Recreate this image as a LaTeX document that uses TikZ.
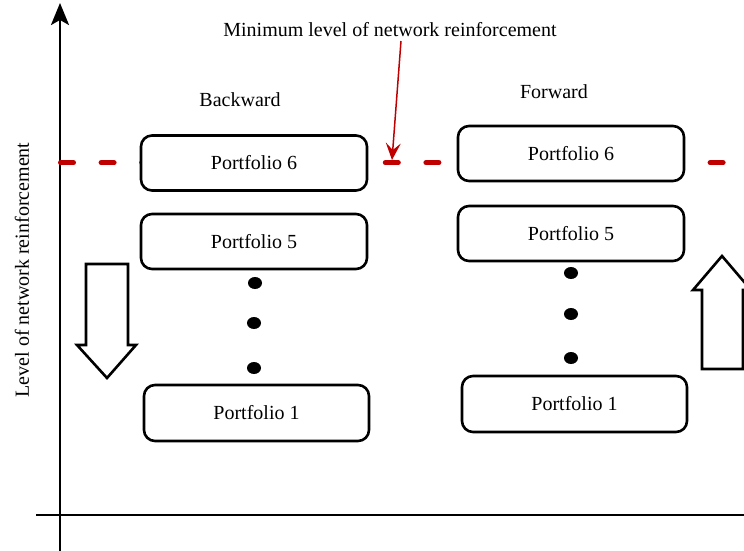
\documentclass[tikz,border=0pt]{standalone}
\usepackage{fontspec}
\setmainfont{Liberation Serif}
\usetikzlibrary{arrows.meta,shapes.geometric}
\definecolor{minred}{RGB}{192,0,0}
\begin{document}
\begin{tikzpicture}[x=1pt,y=-1pt,
                    font=\fontsize{20}{24}\selectfont,
                    portfolio/.style={draw,line width=2.6pt,rounded corners=11pt,fill=white,
                                      minimum width=226pt,minimum height=55pt,inner sep=0pt},
                    axis/.style={line width=2.6pt},
                    minlevel/.style={minred,line width=5pt,line cap=round,dash pattern=on 13pt off 27.6pt},
                    dot/.style={ellipse,fill=black,minimum width=14pt,minimum height=12pt,inner sep=0pt},
                    blockarrow/.style={draw,line width=2.6pt,fill=white,line join=miter}
                   ]
      \useasboundingbox (0,0) rectangle (744,551);
      \clip (0,0) rectangle (744,551);
      % axes
      \coordinate (ytop) at (60,3);
      \coordinate (ybot) at (60,551);
      \coordinate (xleft) at (36,515);
      \coordinate (xright) at (744,515);
      \draw[axis,-{Stealth[length=22pt,width=18pt,inset=5pt]}] (ybot) -- (ytop);
      \draw[axis] (xleft) -- (xright);
      \node[rotate=90] (ylabel) at (22,270) {Level of network reinforcement};
      % minimum level
      \coordinate (lvlstart) at (60.5,162.7);
      \coordinate (lvlend) at (744,162.7);
      \draw[minlevel] (lvlstart) -- (lvlend);
      \node (title) at (390,30) {Minimum level of network reinforcement};
      \coordinate (hit) at (392,160);
      \draw[minred,line width=1.5pt,-{Stealth[length=17pt,width=15pt,inset=7pt]}] (401,41) -- (hit);
      % backward
      \node (bw) at (240,100) {Backward};
      \node[portfolio] (b6) at (254,163) {Portfolio 6};
      \node[portfolio] (b5) at (254,241.5) {Portfolio 5};
      \node[portfolio,minimum width=225pt,minimum height=56pt] (b1) at (256.5,413) {Portfolio 1};
      \node[dot] (bd1) at (255,283) {};
      \node[dot] (bd2) at (254,323) {};
      \node[dot] (bd3) at (254,368) {};
      % forward
      \node (fw) at (554,92) {Forward};
      \node[portfolio] (f6) at (571,153.5) {Portfolio 6};
      \node[portfolio] (f5) at (571,233.5) {Portfolio 5};
      \node[portfolio,minimum width=225pt,minimum height=56pt] (f1) at (574.5,404) {Portfolio 1};
      \node[dot] (fd1) at (571,273) {};
      \node[dot] (fd2) at (571,314) {};
      \node[dot] (fd3) at (571,358) {};
      % direction arrows
      \draw[blockarrow] (86,264) -- (128,264) -- (128,345) -- (136,345) -- (107,378)
                        -- (77,345) -- (86,345) -- cycle;
      \draw[blockarrow] (702,369) -- (743,369) -- (743,290) -- (751,290) -- (722,256)
                        -- (693,290) -- (702,290) -- cycle;
\end{tikzpicture}
\end{document}
